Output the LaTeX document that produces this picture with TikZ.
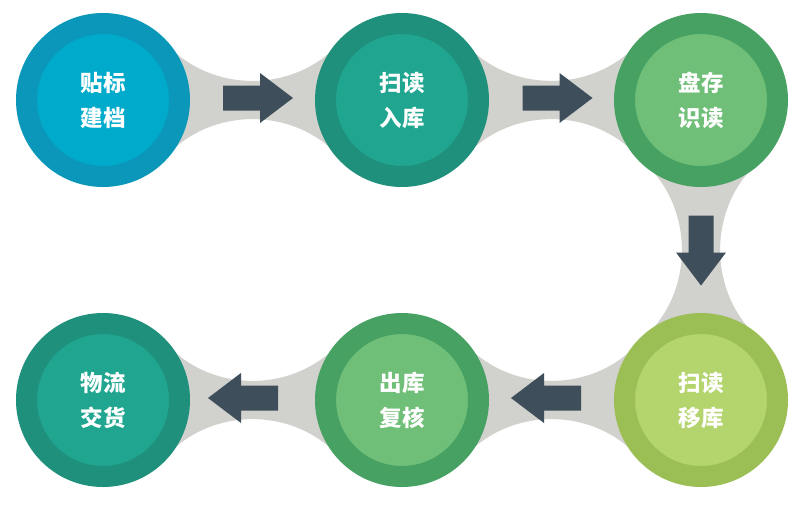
\documentclass[tikz,border=0pt]{standalone}
\usepackage{fontspec}
\newfontfamily\cjk{Noto Sans CJK SC}
\usetikzlibrary{calc,backgrounds}
\definecolor{bridgecol}{HTML}{D1D1CD}
\definecolor{arrowcol}{HTML}{3E4F5B}
\definecolor{blueout}{HTML}{0A97B9}
\definecolor{bluein}{HTML}{00AACB}
\definecolor{tealout}{HTML}{1E907C}
\definecolor{tealin}{HTML}{20A690}
\definecolor{greenout}{HTML}{47A163}
\definecolor{greenin}{HTML}{70BF78}
\definecolor{limeout}{HTML}{9BBE55}
\definecolor{limein}{HTML}{B4D46E}
\begin{document}
\begin{tikzpicture}[x=1pt,y=-1pt,
  stage/.style n args={2}{circle, inner sep=0pt, minimum size=153pt,
    draw=#1, fill=#2, line width=21pt, text=white, align=center,
    font=\cjk\bfseries\fontsize{22.5}{35}\selectfont},
  bridge/.style={fill=bridgecol},
  blockarrow/.pic={\fill[arrowcol] (-35,-12.5) -- (2,-12.5) -- (2,-25) -- (35,0) -- (2,25) -- (2,12.5) -- (-35,12.5) -- cycle;}
]
\useasboundingbox (0,0) rectangle (800,507);

\node[stage={blueout}{bluein}]   (c1) at (103,100) {贴标\\建档};
\node[stage={tealout}{tealin}]   (c2) at (402,100) {扫读\\入库};
\node[stage={greenout}{greenin}] (c3) at (701,100) {盘存\\识读};
\node[stage={limeout}{limein}]   (c4) at (701,400) {扫读\\移库};
\node[stage={greenout}{greenin}] (c5) at (402,400) {出库\\复核};
\node[stage={tealout}{tealin}]   (c6) at (103,400) {物流\\交货};

\begin{scope}[on background layer]
  \fill[white] (0,0) rectangle (800,507);
  % horizontal bridges
  \foreach \a/\b in {c1/c2, c2/c3, c6/c5, c5/c4} {
    \fill[bridge] (\a.32) .. controls +(43,36) and +(-43,36) .. (\b.148)
      -- (\b.-148) .. controls +(-43,-36) and +(43,-36) .. (\a.-32) -- cycle;
  }
  % vertical bridge
  \fill[bridge] (c3.-122) .. controls +(36,43) and +(36,-43) .. (c4.122)
    -- (c4.58) .. controls +(-36,-43) and +(-36,43) .. (c3.-58) -- cycle;
\end{scope}

\pic at ($($(c1)!0.5!(c2)$)+(5.5,-2)$) {blockarrow};
\pic at ($($(c2)!0.5!(c3)$)+(6,-2)$) {blockarrow};
\pic[rotate=-90] at ($($(c3)!0.5!(c4)$)+(0,0.5)$) {blockarrow};
\pic[rotate=180] at ($($(c4)!0.5!(c5)$)+(-5.5,-2)$) {blockarrow};
\pic[rotate=180] at ($($(c5)!0.5!(c6)$)+(-9.5,-2)$) {blockarrow};
\end{tikzpicture}
\end{document}
